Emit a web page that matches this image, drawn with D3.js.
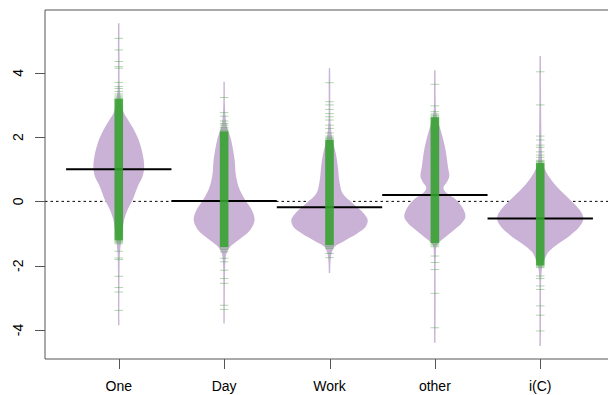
<!DOCTYPE html>
<html>
<head>
<meta charset="utf-8">
<script src="https://cdn.jsdelivr.net/npm/d3@7"></script>
<style>
  body { margin: 0; background: #fff; }
  text { font-family: "Liberation Sans", Arial, Helvetica, sans-serif; font-size: 14px; fill: #000; }
</style>
</head>
<body>
<svg id="chart" width="608" height="395"></svg>
<script>
// bean names and group means
const groups = ['One', 'Day', 'Work', 'other', 'i(C)'];
const means = [1.0, 0.01, -0.18, 0.2, -0.53];
const overall = 0;
const yTicks = [-4, -2, 0, 2, 4];
const yRange = [-4.5, 5.55];

// density profiles, [value, relative density]
const densOne = [[5.54,0.016],[4.6,0.019],[3.6,0.023],[3.2,0.047],[2.95,0.074],[2.74,0.123],[2.43,0.263],[2.11,0.395],[1.8,0.488],[1.39,0.565],[1.08,0.588],[0.77,0.551],[0.45,0.435],[0.04,0.319],[-0.27,0.202],[-0.58,0.123],[-0.89,0.086],[-1.2,0.058],[-1.6,0.028],[-2.2,0.019],[-3.85,0.016]];
const densDay = [[3.72,0.016],[3.0,0.019],[2.6,0.035],[2.3,0.07],[2.11,0.116],[1.9,0.163],[1.28,0.244],[0.87,0.267],[0.45,0.337],[0.04,0.488],[-0.27,0.64],[-0.58,0.705],[-0.89,0.605],[-1.2,0.333],[-1.41,0.14],[-1.6,0.058],[-1.9,0.028],[-2.5,0.019],[-3.8,0.016]];
const densWork = [[4.14,0.016],[3.5,0.019],[2.5,0.023],[2.1,0.047],[1.91,0.07],[1.49,0.147],[1.08,0.193],[0.66,0.226],[0.25,0.302],[-0.06,0.535],[-0.37,0.79],[-0.58,0.884],[-0.79,0.837],[-1.0,0.64],[-1.26,0.302],[-1.41,0.116],[-1.62,0.047],[-1.9,0.023],[-2.23,0.016]];
const densOther = [[4.08,0.016],[3.3,0.019],[2.9,0.023],[2.63,0.047],[2.11,0.156],[1.7,0.233],[1.39,0.272],[1.08,0.302],[0.77,0.333],[0.6,0.28],[0.42,0.198],[0.25,0.28],[0.08,0.465],[-0.2,0.64],[-0.48,0.709],[-0.68,0.621],[-0.95,0.388],[-1.2,0.156],[-1.36,0.047],[-1.7,0.023],[-3.0,0.019],[-4.4,0.016]];
const densIC = [[4.52,0.016],[3.5,0.019],[2.5,0.023],[1.6,0.035],[1.18,0.058],[0.87,0.156],[0.56,0.319],[0.25,0.535],[-0.01,0.737],[-0.27,0.914],[-0.53,1.0],[-0.79,0.907],[-1.05,0.698],[-1.31,0.426],[-1.57,0.193],[-1.83,0.093],[-2.03,0.047],[-2.4,0.023],[-3.5,0.019],[-4.5,0.016]];

// dense core of the bean lines [low, high] and the single observations outside it
const coreRanges = [[-1.22, 3.2], [-1.42, 2.18], [-1.36, 1.92], [-1.3, 2.62], [-2.0, 1.2]];
const obsOne = [5.07, 4.71, 4.35, 4.19, 4.14, 3.7, 3.57, 3.51, 3.42, 3.34, 3.28, 3.24, -1.25, -1.28, -1.32, -1.55, -1.76, -1.81, -2.33, -2.68, -2.82, -3.39];
const obsDay = [3.23, 2.76, 2.65, 2.5, 2.42, 2.37, 2.3, 2.25, 2.21, -1.45, -1.5, -1.57, -1.77, -1.88, -2.14, -2.4, -2.55, -3.23, -3.36];
const obsWork = [3.69, 3.1, 3.0, 2.86, 2.73, 2.63, 2.53, 2.37, 2.27, 2.13, 2.03, 1.98, 1.95, -1.39, -1.42, -1.47, -1.62, -1.75];
const obsOther = [3.64, 2.97, 2.79, 2.72, 2.68, 2.65, -1.33, -1.36, -1.41, -1.7, -1.9, -2.12, -2.86, -3.93];
const obsIC = [4.03, 3.0, 2.03, 1.91, 1.75, 1.68, 1.54, 1.44, 1.37, 1.28, 1.25, 1.23, -2.03, -2.06, -2.32, -2.4, -2.63, -2.74, -3.25, -3.54, -4.03];

const densities = [densOne, densDay, densWork, densOther, densIC];
const observations = [obsOne, obsDay, obsWork, obsOther, obsIC];

const beanCol = '#CAB2D6';
const lineCol = '#33A02C';

const svg = d3.select('#chart');

// R style 4% axis extension
const xlim = [0.5, groups.length + 0.5];
const xpad = (xlim[1] - xlim[0]) * 0.04;
const ypad = (yRange[1] - yRange[0]) * 0.04;

const plotLeft = 45, plotTop = 10, plotBottom = 359, plotRight = 614;
const x = d3.scaleLinear().domain([xlim[0] - xpad, xlim[1] + xpad]).range([plotLeft, plotRight]);
const y = d3.scaleLinear().domain([yRange[0] - ypad, yRange[1] + ypad]).range([plotBottom, plotTop]);
const w = d3.scaleLinear().domain([0, 1]).range([0, 0.41]); // bean half width in x units

// overall average line
svg.append('line')
  .attr('x1', plotLeft).attr('x2', plotRight)
  .attr('y1', y(overall)).attr('y2', y(overall))
  .attr('stroke', '#000')
  .attr('stroke-width', 1)
  .attr('stroke-dasharray', '2.5,3');

// beans
groups.forEach(function(g, i) {
  const c = i + 1;
  const area = d3.area()
    .y(function(d) { return y(d[0]); })
    .x0(function(d) { return x(c - w(d[1])); })
    .x1(function(d) { return x(c + w(d[1])); })
    .curve(d3.curveCatmullRom);

  svg.append('path')
    .datum(densities[i])
    .attr('fill', beanCol)
    .attr('d', area);
});

// group averages
svg.selectAll('.mean')
  .data(means)
  .join('line')
  .attr('class', 'mean')
  .attr('x1', function(d, i) { return x(i + 1 - 0.5); })
  .attr('x2', function(d, i) { return x(i + 1 + 0.5); })
  .attr('y1', function(d) { return y(d); })
  .attr('y2', function(d) { return y(d); })
  .attr('stroke', '#000')
  .attr('stroke-width', 2);

// bean lines
const half = 4.3;
groups.forEach(function(g, i) {
  const cx = x(i + 1);
  svg.append('rect')
    .attr('x', cx - half)
    .attr('width', half * 2)
    .attr('y', y(coreRanges[i][1]))
    .attr('height', y(coreRanges[i][0]) - y(coreRanges[i][1]))
    .attr('fill', lineCol)
    .attr('fill-opacity', 0.88);

  svg.append('g')
    .selectAll('line')
    .data(observations[i])
    .join('line')
    .attr('x1', cx - half).attr('x2', cx + half)
    .attr('y1', function(d) { return y(d); })
    .attr('y2', function(d) { return y(d); })
    .attr('stroke', lineCol)
    .attr('stroke-opacity', 0.4)
    .attr('stroke-width', 1);
});

// box
svg.append('path')
  .attr('d', 'M' + plotRight + ',' + plotTop + 'H' + plotLeft + 'V' + plotBottom + 'H' + plotRight)
  .attr('fill', 'none')
  .attr('stroke', '#555')
  .attr('stroke-width', 1);

// x axis
const xAxis = svg.append('g');
groups.forEach(function(g, i) {
  const cx = Math.round(x(i + 1)) + 0.5;
  xAxis.append('line')
    .attr('x1', cx).attr('x2', cx)
    .attr('y1', plotBottom).attr('y2', plotBottom + 10)
    .attr('stroke', '#555');
  xAxis.append('text')
    .attr('x', x(i + 1))
    .attr('y', 391)
    .attr('text-anchor', 'middle')
    .text(g);
});

// y axis
const yAxis = svg.append('g');
yTicks.forEach(function(t) {
  const ty = Math.round(y(t)) + 0.5;
  yAxis.append('line')
    .attr('x1', plotLeft - 10).attr('x2', plotLeft)
    .attr('y1', ty).attr('y2', ty)
    .attr('stroke', '#555');
  yAxis.append('text')
    .attr('transform', 'translate(23,' + y(t) + ') rotate(-90)')
    .attr('text-anchor', 'middle')
    .text(t);
});
</script>
</body>
</html>
